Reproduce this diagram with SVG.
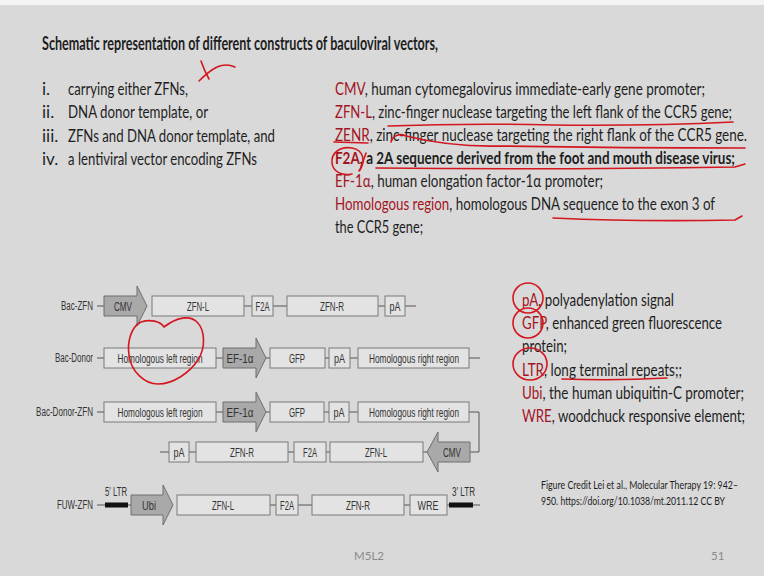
<svg xmlns="http://www.w3.org/2000/svg" width="764" height="576" viewBox="0 0 764 576">
  <style>
    .bg { fill: #d9d9d9; }
    .box { fill: #e3e3e3; stroke: #7b7b7b; stroke-width: 1; }
    .prom { fill: #a9a9a9; stroke: #6e6e6e; stroke-width: 1; }
    .ltr { fill: #111; }
    .wire { stroke: #555; stroke-width: 1; fill: none; }
    .lbl { font-family: "Liberation Sans", Arial, sans-serif; font-size: 13px; fill: #333; text-anchor: middle; }
    .name { font-family: "Liberation Sans", Arial, sans-serif; font-size: 12.5px; fill: #333; text-anchor: end; }
    .tag { font-family: "Liberation Sans", Arial, sans-serif; font-size: 12px; fill: #333; }
    .slide { font-family: Lato, "Liberation Sans", sans-serif; font-size: 17px; fill: #1e1e1e; }
    .title { font-family: Lato, "Liberation Sans", sans-serif; font-size: 18.5px; font-weight: bold; fill: #1e1e1e; }
    .small { font-family: Lato, "Liberation Sans", sans-serif; font-size: 11.5px; fill: #1e1e1e; }
    .foot { font-family: Lato, "Liberation Sans", sans-serif; font-size: 11.5px; fill: #8a8a8a; }
    .red { fill: #a3141f; }
    .pen { stroke: #d4161f; stroke-width: 1.6; fill: none; stroke-linecap: round; stroke-linejoin: round; }
  </style>

  <!-- slide background -->
  <rect class="bg" x="0" y="0" width="764" height="576"/>
  <rect x="0" y="0" width="764" height="5" fill="#f4f4f4"/>

  <!-- heading and list -->
  <text class="title" x="42" y="50" textLength="396" lengthAdjust="spacingAndGlyphs">Schematic representation of different constructs of baculoviral vectors,</text>
  <g class="slide">
    <text x="42" y="95">i.</text>
    <text x="68" y="95" textLength="120" lengthAdjust="spacingAndGlyphs">carrying either ZFNs,</text>
    <text x="42" y="118">ii.</text>
    <text x="68" y="118" textLength="140" lengthAdjust="spacingAndGlyphs">DNA donor template, or</text>
    <text x="42" y="141.5">iii.</text>
    <text x="68" y="141.5" textLength="207" lengthAdjust="spacingAndGlyphs">ZFNs and DNA donor template, and</text>
    <text x="42" y="165">iv.</text>
    <text x="68" y="165" textLength="189" lengthAdjust="spacingAndGlyphs">a lentiviral vector encoding ZFNs</text>
  </g>

  <!-- abbreviations, upper block -->
  <g class="slide">
    <text x="335" y="95" textLength="370" lengthAdjust="spacingAndGlyphs"><tspan class="red">CMV</tspan>, human cytomegalovirus immediate-early gene promoter;</text>
    <text x="335" y="118" textLength="397" lengthAdjust="spacingAndGlyphs"><tspan class="red">ZFN-L</tspan>, zinc-finger nuclease targeting the left flank of the CCR5 gene;</text>
    <text x="335" y="141" textLength="412" lengthAdjust="spacingAndGlyphs"><tspan class="red">ZENR</tspan>, zinc-finger nuclease targeting the right flank of the CCR5 gene.</text>
    <text x="335" y="164" font-weight="bold" textLength="400" lengthAdjust="spacingAndGlyphs"><tspan class="red">F2A</tspan>, a 2A sequence derived from the foot and mouth disease virus;</text>
    <text x="335" y="187" textLength="268" lengthAdjust="spacingAndGlyphs"><tspan class="red">EF-1α</tspan>, human elongation factor-1α promoter;</text>
    <text x="335" y="210" textLength="380" lengthAdjust="spacingAndGlyphs"><tspan class="red">Homologous region</tspan>, homologous DNA sequence to the exon 3 of</text>
    <text x="335" y="233" textLength="88" lengthAdjust="spacingAndGlyphs">the CCR5 gene;</text>
  </g>

  <!-- abbreviations, lower block -->
  <g class="slide">
    <text x="522" y="306" textLength="152" lengthAdjust="spacingAndGlyphs"><tspan class="red">pA</tspan>, polyadenylation signal</text>
    <text x="522" y="329" textLength="200" lengthAdjust="spacingAndGlyphs"><tspan class="red">GFP</tspan>, enhanced green fluorescence</text>
    <text x="522" y="352" textLength="45" lengthAdjust="spacingAndGlyphs">protein;</text>
    <text x="522" y="375.5" textLength="160" lengthAdjust="spacingAndGlyphs"><tspan class="red">LTR</tspan>, long terminal repeats;;</text>
    <text x="522" y="399" textLength="222" lengthAdjust="spacingAndGlyphs"><tspan class="red">Ubi</tspan>, the human ubiquitin-C promoter;</text>
    <text x="522" y="422" textLength="223" lengthAdjust="spacingAndGlyphs"><tspan class="red">WRE</tspan>, woodchuck responsive element;</text>
  </g>

  <!-- credit and footer -->
  <text class="small" x="541" y="489" textLength="197" lengthAdjust="spacingAndGlyphs">Figure Credit Lei et al., Molecular Therapy 19: 942–</text>
  <text class="small" x="541" y="505" textLength="184" lengthAdjust="spacingAndGlyphs">950. https://doi.org/10.1038/mt.2011.12 CC BY</text>
  <text class="foot" x="369" y="560" text-anchor="middle">M5L2</text>
  <text class="foot" x="711" y="560">51</text>

  <!-- backbone connectors -->
  <g id="connectors" class="wire">
    <path d="M97,306 H104 M244,306 H252 M273,306 H287 M378,306 H385 M405,306 H416"/>
    <path d="M97,358 H104 M216,358 H223 M266,358 H270 M325,358 H329 M350,358 H358 M469,358 H480"/>
    <path d="M97,412 H104 M216,412 H223 M266,412 H270 M324,412 H329 M349,412 H358 M469,412 H479 V452 H470"/>
    <path d="M160,452 H169 M189,452 H196 M288,452 H294 M326,452 H330 M423,452 H427"/>
    <path d="M97,505 H105 M128,505 H131 M270,505 H276 M298,505 H312 M404,505 H410 M447,505 H449 M473,505 H480"/>
  </g>

  <!-- construct names -->
  <g id="names">
    <text class="name" x="93" y="310" textLength="32" lengthAdjust="spacingAndGlyphs">Bac-ZFN</text>
    <text class="name" x="93" y="362" textLength="38" lengthAdjust="spacingAndGlyphs">Bac-Donor</text>
    <text class="name" x="93" y="416" textLength="57" lengthAdjust="spacingAndGlyphs">Bac-Donor-ZFN</text>
    <text class="name" x="93" y="509" textLength="36" lengthAdjust="spacingAndGlyphs">FUW-ZFN</text>
  </g>

  <!-- Bac-ZFN -->
  <g id="r1-cmv"><polygon class="prom" points="104,296 137,296 137,286 147,306 137,326 137,316 104,316"/><text class="lbl" x="123" y="310.5" textLength="18" lengthAdjust="spacingAndGlyphs">CMV</text></g>
  <g id="r1-zfnl"><rect class="box" x="152" y="296" width="92" height="20"/><text class="lbl" x="198" y="310.5" textLength="22" lengthAdjust="spacingAndGlyphs">ZFN-L</text></g>
  <g id="r1-f2a"><rect class="box" x="252" y="296" width="21" height="20"/><text class="lbl" x="262.5" y="310.5" textLength="14" lengthAdjust="spacingAndGlyphs">F2A</text></g>
  <g id="r1-zfnr"><rect class="box" x="287" y="296" width="91" height="20"/><text class="lbl" x="332" y="310.5" textLength="24" lengthAdjust="spacingAndGlyphs">ZFN-R</text></g>
  <g id="r1-pa"><rect class="box" x="385" y="296" width="20" height="20"/><text class="lbl" x="395" y="310.5" textLength="11" lengthAdjust="spacingAndGlyphs">pA</text></g>

  <!-- Bac-Donor -->
  <g id="r2-homl"><rect class="box" x="104" y="348" width="112" height="20"/><text class="lbl" x="160" y="362.5" textLength="85" lengthAdjust="spacingAndGlyphs">Homologous left region</text></g>
  <g id="r2-ef1a"><polygon class="prom" points="223,348 256,348 256,338 266,358 256,378 256,368 223,368"/><text class="lbl" x="240" y="362.5" textLength="27" lengthAdjust="spacingAndGlyphs">EF-1α</text></g>
  <g id="r2-gfp"><rect class="box" x="270" y="348" width="55" height="20"/><text class="lbl" x="297" y="362.5" textLength="16" lengthAdjust="spacingAndGlyphs">GFP</text></g>
  <g id="r2-pa"><rect class="box" x="329" y="348" width="21" height="20"/><text class="lbl" x="339.5" y="362.5" textLength="11" lengthAdjust="spacingAndGlyphs">pA</text></g>
  <g id="r2-homr"><rect class="box" x="358" y="348" width="111" height="20"/><text class="lbl" x="414" y="362.5" textLength="90" lengthAdjust="spacingAndGlyphs">Homologous right region</text></g>

  <!-- Bac-Donor-ZFN, first line -->
  <g id="r3-homl"><rect class="box" x="104" y="402" width="112" height="20"/><text class="lbl" x="160" y="416.5" textLength="85" lengthAdjust="spacingAndGlyphs">Homologous left region</text></g>
  <g id="r3-ef1a"><polygon class="prom" points="223,402 256,402 256,392 266,412 256,432 256,422 223,422"/><text class="lbl" x="240" y="416.5" textLength="27" lengthAdjust="spacingAndGlyphs">EF-1α</text></g>
  <g id="r3-gfp"><rect class="box" x="270" y="402" width="54" height="20"/><text class="lbl" x="297" y="416.5" textLength="16" lengthAdjust="spacingAndGlyphs">GFP</text></g>
  <g id="r3-pa"><rect class="box" x="329" y="402" width="20" height="20"/><text class="lbl" x="339" y="416.5" textLength="11" lengthAdjust="spacingAndGlyphs">pA</text></g>
  <g id="r3-homr"><rect class="box" x="358" y="402" width="111" height="20"/><text class="lbl" x="414" y="416.5" textLength="90" lengthAdjust="spacingAndGlyphs">Homologous right region</text></g>

  <!-- Bac-Donor-ZFN, reversed cassette -->
  <g id="r4-pa"><rect class="box" x="169" y="442" width="20" height="20"/><text class="lbl" x="179" y="456.5" textLength="11" lengthAdjust="spacingAndGlyphs">pA</text></g>
  <g id="r4-zfnr"><rect class="box" x="196" y="442" width="92" height="20"/><text class="lbl" x="242" y="456.5" textLength="24" lengthAdjust="spacingAndGlyphs">ZFN-R</text></g>
  <g id="r4-f2a"><rect class="box" x="294" y="442" width="32" height="20"/><text class="lbl" x="310" y="456.5" textLength="14" lengthAdjust="spacingAndGlyphs">F2A</text></g>
  <g id="r4-zfnl"><rect class="box" x="330" y="442" width="93" height="20"/><text class="lbl" x="376" y="456.5" textLength="22" lengthAdjust="spacingAndGlyphs">ZFN-L</text></g>
  <g id="r4-cmv"><polygon class="prom" points="470,442 438,442 438,432 427,452 438,472 438,462 470,462"/><text class="lbl" x="452" y="456.5" textLength="18" lengthAdjust="spacingAndGlyphs">CMV</text></g>

  <!-- FUW-ZFN -->
  <g id="r5-ltr5"><rect class="ltr" x="105" y="502.5" width="23" height="5"/><text class="tag" x="105" y="496" textLength="22" lengthAdjust="spacingAndGlyphs">5′ LTR</text></g>
  <g id="r5-ubi"><polygon class="prom" points="131,495 163,495 163,485 173,505 163,525 163,515 131,515"/><text class="lbl" x="149" y="509.5" textLength="14" lengthAdjust="spacingAndGlyphs">Ubi</text></g>
  <g id="r5-zfnl"><rect class="box" x="177" y="495" width="93" height="20"/><text class="lbl" x="223" y="509.5" textLength="22" lengthAdjust="spacingAndGlyphs">ZFN-L</text></g>
  <g id="r5-f2a"><rect class="box" x="276" y="495" width="22" height="20"/><text class="lbl" x="287" y="509.5" textLength="14" lengthAdjust="spacingAndGlyphs">F2A</text></g>
  <g id="r5-zfnr"><rect class="box" x="312" y="495" width="92" height="20"/><text class="lbl" x="358" y="509.5" textLength="24" lengthAdjust="spacingAndGlyphs">ZFN-R</text></g>
  <g id="r5-wre"><rect class="box" x="410" y="495" width="37" height="20"/><text class="lbl" x="428" y="509.5" textLength="21" lengthAdjust="spacingAndGlyphs">WRE</text></g>
  <g id="r5-ltr3"><rect class="ltr" x="449" y="502.5" width="24" height="5"/><text class="tag" x="452" y="496" textLength="23" lengthAdjust="spacingAndGlyphs">3′ LTR</text></g>

  <!-- pen marks -->
  <g id="ink" class="pen">
    <path d="M201,61 Q204,70 209,79"/>
    <path d="M199,81 Q209,71 217,67 Q226,63 235,67"/>
    <path d="M388,126 Q470,123 553,125 Q650,126 733,122"/>
    <path d="M334,142 L368,143"/>
    <path d="M391,142 C393,135 400,133 406,136 Q450,147 500,146 Q620,148 745,148"/>
    <path d="M359,171 C366,162 364,150 352,148 C340,146 331,153 332,163 C333,172 342,176 352,174"/>
    <path d="M360,170 L366,153"/>
    <path d="M376,168 Q560,170 735,167 L745,164"/>
    <path d="M553,218 Q640,222 735,220 L742,216"/>
    <path d="M164,327 C160,321 150,319 141,322 C131,327 127,342 129,355 C131,372 145,384 158,384 C174,384 190,372 198,360 C206,347 205,330 197,322 C190,315 177,317 164,327"/>
    <ellipse cx="528" cy="298" rx="15" ry="15"/>
    <ellipse cx="528" cy="323" rx="15" ry="15"/>
    <ellipse cx="530" cy="364" rx="17" ry="16"/>
    <path d="M562,379 Q615,381 667,378"/>
  </g>
</svg>
